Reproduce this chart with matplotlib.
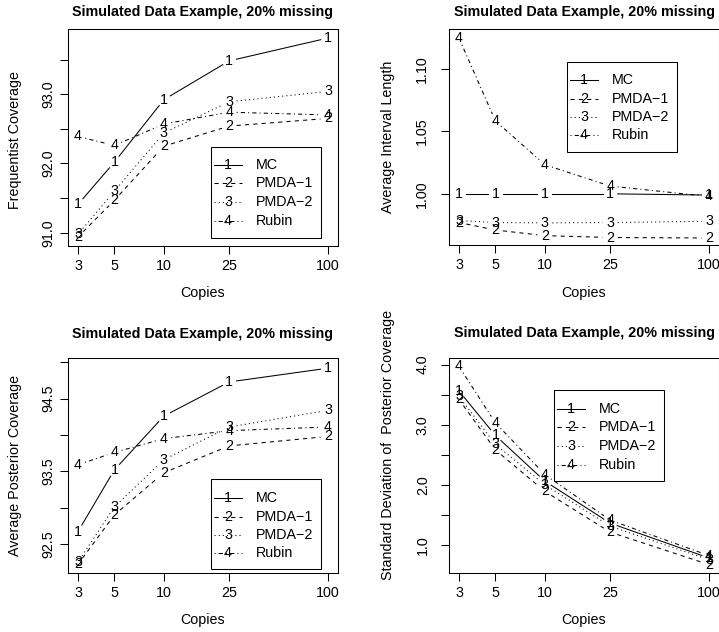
import numpy as np
import matplotlib
matplotlib.use('Agg')
import matplotlib.pyplot as plt
from matplotlib.patches import Rectangle

plt.rcParams['font.family'] = ['Liberation Sans', 'DejaVu Sans']

# data
copies  = [3, 5, 10, 25, 100]
methods = ['MC', 'PMDA\u22121', 'PMDA\u22122', 'Rubin']
digits  = ['1', '2', '3', '4']
title_s = 'Simulated Data Example, 20% missing'

freq_mc    = [91.41, 92.02, 92.92, 93.48, 93.81]
freq_pmda1 = [90.94, 91.47, 92.25, 92.54, 92.65]
freq_pmda2 = [90.98, 91.60, 92.44, 92.89, 93.04]
freq_rubin = [92.39, 92.26, 92.57, 92.74, 92.70]

len_mc     = [1.000, 1.000, 1.000, 1.000, 0.999]
len_pmda1  = [0.977, 0.971, 0.9665, 0.965, 0.9646]
len_pmda2  = [0.9786, 0.977, 0.9767, 0.977, 0.978]
len_rubin  = [1.1247, 1.0584, 1.0233, 1.0062, 0.9979]

post_mc    = [92.67, 93.52, 94.26, 94.73, 94.92]
post_pmda1 = [92.22, 92.90, 93.48, 93.85, 93.98]
post_pmda2 = [92.25, 93.01, 93.66, 94.11, 94.34]
post_rubin = [93.59, 93.76, 93.95, 94.06, 94.11]

sd_mc      = [3.56, 2.82, 2.06, 1.36, 0.78]
sd_pmda1   = [3.42, 2.58, 1.89, 1.21, 0.67]
sd_pmda2   = [3.47, 2.67, 2.00, 1.31, 0.75]
sd_rubin   = [3.97, 3.03, 2.17, 1.41, 0.82]

W, H = 719, 632
FS   = 10.3
GAP  = 7.5
LW   = 0.75
styles = ['-', (0, (4, 4)), (0, (1, 3)), (0, (1, 3, 4, 3))]

fig = plt.figure(figsize=(W/100, H/100), dpi=100)

def make_axes(box, ylim, yticks, ylabels, ylabel, ylab_pos, ypad, title_pos, xlab_y):
  l, t, r, b = box
  ax = fig.add_axes([l/W, 1-b/H, (r-l)/W, (b-t)/H])
  ax.set_xscale('log')
  ax.set_xlim(2.608, 115.06)
  ax.set_ylim(*ylim)
  ax.autoscale(False)
  ax.set_xticks(copies)
  ax.set_xticklabels([str(c) for c in copies])
  ax.xaxis.set_minor_locator(matplotlib.ticker.NullLocator())
  ax.set_yticks(yticks)
  ax.set_yticklabels(ylabels)
  ax.tick_params(axis='both', direction='out', length=5.8, width=LW, labelsize=FS, color='black')
  ax.tick_params(axis='x', pad=3.6)
  ax.tick_params(axis='y', pad=ypad, labelrotation=90)
  for lbl in ax.get_yticklabels():
    lbl.set_va('center')
  for sp in ax.spines.values():
    sp.set_linewidth(LW)
  ax.set_xlabel('Copies', fontsize=FS)
  ax.xaxis.set_label_coords(0.5, (b - xlab_y)/(b-t))
  ax.xaxis.label.set_va('center')
  ax.set_ylabel(ylabel, fontsize=FS)
  ax.yaxis.set_label_coords((ylab_pos[0]-l)/(r-l), (b-ylab_pos[1])/(b-t))
  ax.yaxis.label.set_va('center')
  fig.text(title_pos[0]/W, 1-title_pos[1]/H, title_s, ha='center', va='center',
           fontsize=FS, fontweight='bold')
  return ax

def draw_series(ax, ys, style, digit):
  tr  = ax.transData
  pts = tr.transform(np.column_stack([copies, ys]))
  for i in range(len(pts)-1):
    d = pts[i+1] - pts[i]
    L = np.hypot(d[0], d[1])
    if L <= 2*GAP:
      continue
    u = d/L
    q = tr.inverted().transform(np.array([pts[i] + u*GAP, pts[i+1] - u*GAP]))
    ax.plot(q[:, 0], q[:, 1], color='black', lw=LW, linestyle=style)
  for x, y in zip(copies, ys):
    ax.text(x, y, digit, ha='center', va='center', fontsize=FS)

def draw_legend(ax, box, lbox, rows):
  l, t, r, b = box
  def fx(px): return (px - l)/(r - l)
  def fy(py): return (b - py)/(b - t)
  ll, lt, lr, lb = lbox
  ax.add_patch(Rectangle((fx(ll), fy(lb)), fx(lr)-fx(ll), fy(lt)-fy(lb), transform=ax.transAxes,
                         fill=True, facecolor='white', edgecolor='black', lw=LW, zorder=5))
  for i in range(4):
    yy = fy(rows[i])
    ax.plot([fx(ll+3), fx(ll+31)], [yy, yy], transform=ax.transAxes, color='black',
            lw=LW, linestyle=styles[i], zorder=6)
    ax.text(fx(ll+17), yy, digits[i], transform=ax.transAxes, ha='center', va='center',
            fontsize=FS, zorder=7, bbox=None)
    ax.text(fx(ll+45), yy, methods[i], transform=ax.transAxes, ha='left', va='center',
            fontsize=FS, zorder=7)

# panel 1: frequentist coverage
box1 = (68, 29, 338, 246)
ax1 = make_axes(box1, (90.81, 93.94), [91.0, 91.5, 92.0, 92.5, 93.0, 93.5],
                ['91.0', '', '92.0', '', '93.0', ''], 'Frequentist Coverage',
                (15, 140), 3.0, (203, 12), 293)
for ys, st, dg in zip([freq_mc, freq_pmda1, freq_pmda2, freq_rubin], styles, digits):
  draw_series(ax1, ys, st, dg)
draw_legend(ax1, box1, (211, 147, 321, 238), [165, 183, 202, 221])

# panel 2: average interval length
box2 = (449, 29, 719, 245)
ax2 = make_axes(box2, (0.959, 1.132), [1.00, 1.05, 1.10],
                ['1.00', '1.05', '1.10'], 'Average Interval Length',
                (388, 137), 9.0, (584, 12), 293)
for ys, st, dg in zip([len_mc, len_pmda1, len_pmda2, len_rubin], styles, digits):
  draw_series(ax2, ys, st, dg)
draw_legend(ax2, box2, (567, 62, 677, 152), [80, 99, 117, 135])

# panel 3: average posterior coverage
box3 = (68, 358, 338, 573)
ax3 = make_axes(box3, (92.10, 95.06), [92.5, 93.0, 93.5, 94.0, 94.5, 95.0],
                ['92.5', '', '93.5', '', '94.5', ''], 'Average Posterior Coverage',
                (15, 465), 3.0, (203, 334), 620)
for ys, st, dg in zip([post_mc, post_pmda1, post_pmda2, post_rubin], styles, digits):
  draw_series(ax3, ys, st, dg)
draw_legend(ax3, box3, (211, 479, 321, 569), [498, 517, 535, 553])

# panel 4: sd of posterior coverage
box4 = (449, 358, 719, 573)
ax4 = make_axes(box4, (0.53, 4.11), [1.0, 1.5, 2.0, 2.5, 3.0, 3.5, 4.0],
                ['1.0', '', '2.0', '', '3.0', '', '4.0'], 'Standard Deviation of  Posterior Coverage',
                (388, 445), 8.0, (584, 333), 620)
for ys, st, dg in zip([sd_mc, sd_pmda1, sd_pmda2, sd_rubin], styles, digits):
  draw_series(ax4, ys, st, dg)
draw_legend(ax4, box4, (554, 390, 664, 481), [409, 427, 446, 465])

fig.savefig('out.png', dpi=100)
